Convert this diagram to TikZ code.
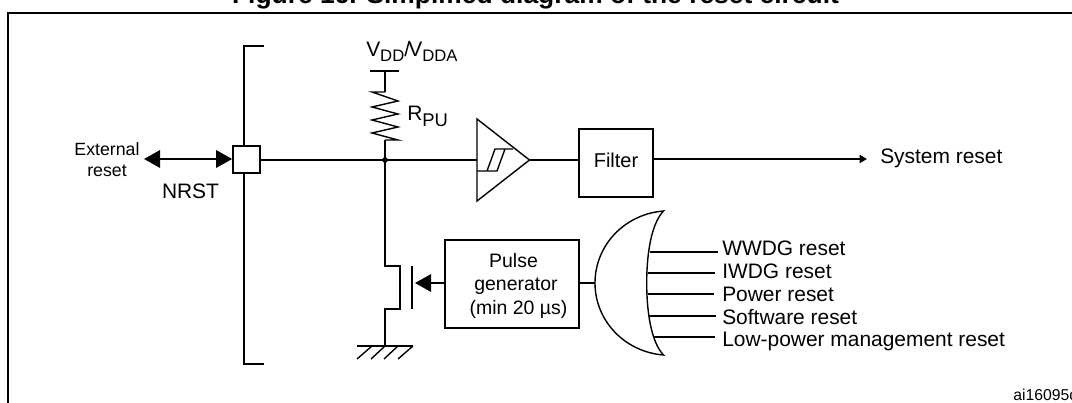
\documentclass[tikz,border=0pt]{standalone}
\usepackage{fontspec}
\setmainfont{Liberation Sans}
\usetikzlibrary{arrows.meta}
\newcommand{\lowsub}[3]{\raisebox{-#2}{\fontsize{#3}{#3}\selectfont #1}}
\tikzset{
  wire/.style={line width=1.5pt,line cap=butt},
  thin wire/.style={line width=1.05pt},
  bigtip/.style={-{Triangle[length=12pt,width=13pt]}},
  bigboth/.style={{Triangle[length=12pt,width=13pt]}-{Triangle[length=12pt,width=13pt]}},
  smalltip/.style={-{Triangle[length=5.5pt,width=6pt]}},
  box/.style={draw,line width=1.5pt,fill=white,inner sep=0pt,align=center},
  lbl/.style={inner sep=0pt,anchor=base,font=\fontsize{15.7pt}{18pt}\selectfont},
  lblw/.style={lbl,anchor=base west},
  plbl/.style={lbl,font=\fontsize{14.6pt}{18pt}\selectfont}
}
\begin{document}
\begin{tikzpicture}[x=0.75pt,y=-0.75pt]
\useasboundingbox (0,0) rectangle (1072,403);
\clip (0,0) rectangle (1072,403);
% title
\node[inner sep=0pt,anchor=base,font=\fontsize{19.8pt}{22pt}\selectfont\bfseries] (title) at (535.5,3.8) {Figure 16. Simplified diagram of the reset circuit};
% frame
\coordinate (fa) at (7.5,403); \coordinate (fb) at (7.5,13); \coordinate (fc) at (1072,13);
\draw[wire] (fa) -- (fb) -- (fc);
% bracket
\coordinate (ba) at (264,46); \coordinate (bb) at (244,46); \coordinate (bc) at (244,364); \coordinate (bd) at (264,364);
\draw[wire] (ba) -- (bb) -- (bc) -- (bd);
% pad
\node[box,minimum width=20pt,minimum height=20.5pt] (pad) at (246.5,159.8) {};
\coordinate (ext) at (144,159);
\draw[wire,bigboth] (ext) -- (pad.west |- ext);
\coordinate (j) at (385,160);
\draw[wire] (pad.east |- j) -- (j);
\fill (j) circle (2.1pt);
% supply and resistor
\coordinate (vl) at (370,71); \coordinate (vr) at (399,71); \coordinate (vm) at (385,71);
\draw[wire] (vl) -- (vr);
\coordinate (r0) at (385,92); \coordinate (r1) at (385,140);
\draw[wire] (vm) -- (r0);
\draw[thin wire,line join=miter] (r0) -- (372,92) -- (398,101) -- (372,107) -- (398,114) -- (372,120) -- (398,127) -- (372,133) -- (398,140) -- (r1);
\draw[wire] (r1) -- (j);
\node[lblw] (vdd) at (366,57) {V\lowsub{DD}{3.7pt}{12.5pt}/\kern-0.08em V\lowsub{DDA}{3.7pt}{12.5pt}};
\node[lblw] (rpu) at (407,121) {R\lowsub{PU}{4.5pt}{13.8pt}};
% comparator
\coordinate (ca) at (477,119); \coordinate (cb) at (529.5,160); \coordinate (cc) at (477,201); \coordinate (ci) at (477,160);
\draw[thin wire,line join=miter] (ca) -- (cb) -- (cc) -- cycle;
\draw[wire] (j) -- (ci);
\draw[thin wire] (477,171) -- (497,171) -- (505,149) (487,171) -- (495,149) -- (513,149);
% filter
\node[box,minimum width=55.5pt,minimum height=51pt] (filter) at (616,163) {};
\node[lbl,font=\fontsize{15pt}{18pt}\selectfont] (filtertext) at (616,167) {Filter};
\draw[wire] (cb) -- (filter.west |- cb);
\coordinate (out) at (867,159);
\draw[wire,smalltip] (filter.east |- out) -- (out);
\node[lblw] (sys) at (880,163) {System reset};
% external reset / NRST
\node[inner sep=0pt,align=center,font=\fontsize{13.3pt}{15.6pt}\selectfont] (extt) at (107,159.5) {External\\reset};
\node[lbl] (nrst) at (190.5,198) {NRST};
% transistor
\coordinate (d0) at (385,266); \coordinate (d1) at (399.5,266); \coordinate (d2) at (399.5,309); \coordinate (d3) at (385,309);
\coordinate (g) at (385,345.7);
\draw[wire] (j) -- (d0) -- (d1) -- (d2) -- (d3) -- (g);
\coordinate (ga) at (412,266); \coordinate (gb) at (412,309); \coordinate (gt) at (415,283);
\draw[wire] (ga) -- (gb);
% ground
\coordinate (gl) at (357,345.7); \coordinate (gr) at (413,345.7);
\draw[wire] (gl) -- (gr);
\draw[thin wire] (372,346) -- (357,359) (385,346) -- (371,359) (398,346) -- (384,359) (413,346) -- (398,359);
% pulse generator
\node[box,minimum width=100.5pt,minimum height=66pt] (pulse) at (512,284) {};
\node[plbl] (p1) at (513.5,267) {Pulse};
\node[plbl] (p2) at (516,290) {generator};
\node[plbl] (p3) at (518.5,314) {(min 20 µs)};
\draw[wire,bigtip] (pulse.west |- gt) -- (gt);
% OR gate
\coordinate (ot) at (663.5,211); \coordinate (ob) at (663.5,355); \coordinate (ol) at (595,283); \coordinate (oi) at (646.7,283);
\draw[thin wire,line join=miter] (ot) .. controls (625,214) and (595,245) .. (ol) .. controls (595,321) and (625,352) .. (ob) .. controls (652,343) and (646.7,315) .. (oi) .. controls (646.7,251) and (652,223) .. (ot) -- cycle;
\draw[wire] (pulse.east |- ol) -- (ol);
% OR inputs
\node[lblw] (l1) at (722,255.7) {WWDG reset};
\node[lblw] (l2) at (722,278.7) {IWDG reset};
\node[lblw] (l3) at (722,301) {Power reset};
\node[lblw] (l4) at (722,324) {Software reset};
\node[lblw] (l5) at (722,346) {Low-power management reset};
\coordinate (i1) at (650,252); \coordinate (e1) at (718,252);
\coordinate (i2) at (648,273); \coordinate (e2) at (715,273);
\coordinate (i3) at (648,294); \coordinate (e3) at (714,294);
\coordinate (i4) at (649,316); \coordinate (e4) at (716,316);
\coordinate (i5) at (653,337); \coordinate (e5) at (715,337);
\draw[wire] (i1) -- (e1) (i2) -- (e2) (i3) -- (e3) (i4) -- (e4) (i5) -- (e5);
% reference
\node[inner sep=0pt,anchor=west,font=\fontsize{11.8pt}{14pt}\selectfont] (ai) at (1013,395) {ai16095c};
\end{tikzpicture}
\end{document}
